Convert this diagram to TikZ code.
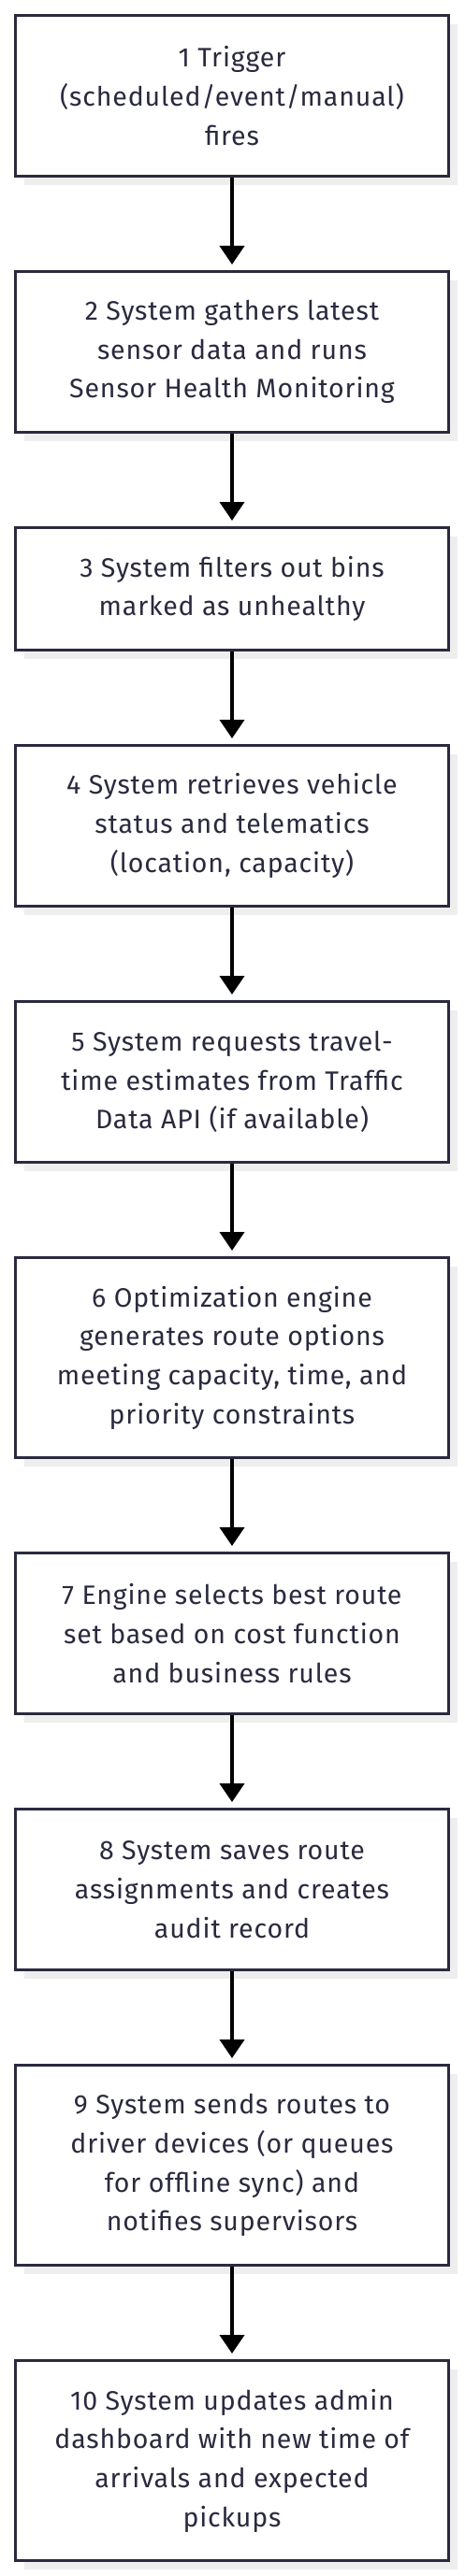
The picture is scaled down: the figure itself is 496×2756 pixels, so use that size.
\documentclass[tikz,border=0pt]{standalone}
\usepackage{fontspec}
\setmainfont{Fira Sans}[LetterSpace=3]
\usepackage{tikz}
\usetikzlibrary{arrows.meta, shadows, backgrounds}
\usepackage{xcolor}
\definecolor{ink}{HTML}{2A2A3F}
\definecolor{shade}{HTML}{EEEEEE}
\tikzset{
  stepbox/.style ={draw=ink, line width=3pt, fill=white, text=ink, align=center, inner sep=0pt,
                   minimum width=463pt, font=\fontsize{28.5}{41.7}\selectfont,
                   drop shadow={shadow xshift=9.5pt, shadow yshift=-9.5pt, fill=shade, opacity=1}},
  lines2/.style  ={stepbox, minimum height=131pt},
  lines3/.style  ={stepbox, minimum height=172pt},
  lines4/.style  ={stepbox, minimum height=214pt},
  flow/.style    ={-{Triangle[length=20pt, width=26pt]}, line width=4pt, black, shorten >=6pt}, % step -> next step
}

\begin{document}
\begin{tikzpicture}[x=1pt, y=1pt]
  \useasboundingbox (0,0) rectangle (496,-2756);
  \begin{scope}[on background layer]
    \fill[white] (0,0) rectangle (496,-2756);
  \end{scope}
  % steps
  \node[lines3] (s1)  at (248,-102.5)  {1 Trigger\\(scheduled/event/manual)\\fires};
  \node[lines3] (s2)  at (248,-376.5)  {2 System gathers latest\\sensor data and runs\\Sensor Health Monitoring};
  \node[lines2] (s3)  at (248,-630)    {3 System filters out bins\\marked as unhealthy};
  \node[lines3] (s4)  at (248,-883.5)  {4 System retrieves vehicle\\status and telematics\\(location, capacity)};
  \node[lines3] (s5)  at (248,-1157.5) {5 System requests travel-\\time estimates from Traffic\\Data API (if available)};
  \node[lines4] (s6)  at (248,-1452.5) {6 Optimization engine\\generates route options\\meeting capacity, time, and\\priority constraints};
  \node[lines3] (s7)  at (248,-1747.5) {7 Engine selects best route\\set based on cost function\\and business rules};
  \node[lines3] (s8)  at (248,-2021.5) {8 System saves route\\assignments and creates\\audit record};
  \node[lines4] (s9)  at (248,-2316.5) {9 System sends routes to\\driver devices (or queues\\for offline sync) and\\notifies supervisors};
  \node[lines4] (s10) at (248,-2632.5) {10 System updates admin\\dashboard with new time of\\arrivals and expected\\pickups};
  % arrows
  \draw[flow] (s1) -- (s2);
  \draw[flow] (s2) -- (s3);
  \draw[flow] (s3) -- (s4);
  \draw[flow] (s4) -- (s5);
  \draw[flow] (s5) -- (s6);
  \draw[flow] (s6) -- (s7);
  \draw[flow] (s7) -- (s8);
  \draw[flow] (s8) -- (s9);
  \draw[flow] (s9) -- (s10);
\end{tikzpicture}
\end{document}
